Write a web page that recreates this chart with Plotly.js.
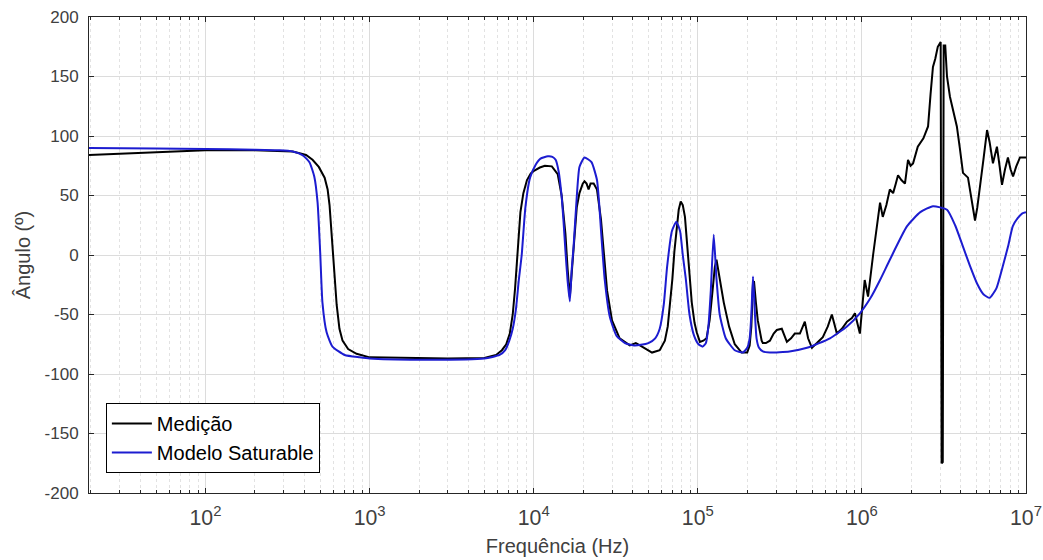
<!DOCTYPE html>
<html>
<head>
<meta charset="utf-8">
<script src="https://cdn.plot.ly/plotly-3.0.1.min.js"></script>
<style>html,body{margin:0;padding:0;background:#fff;}#chart{width:1043px;height:560px;}</style>
</head>
<body>
<div id="chart"></div>
<script>
// Medição (measured phase, degrees) vs frequency (Hz)
const freqMed = [19.5, 30, 50, 100, 200, 282, 340, 374, 410, 449, 490, 532, 555, 570, 585, 600, 615, 630, 655, 684, 740, 833, 1000, 2000, 3000, 5000, 5900, 6400, 6800, 7150, 7450, 7700, 7900, 8100, 8300, 8650, 9100, 9600, 10100, 10900, 11700, 12900, 14000, 14800, 15600, 16100, 16600, 17050, 17500, 18300, 19000, 19900, 20400, 21000, 21600, 22200, 23200, 24300, 25700, 26700, 28000, 30000, 33400, 38500, 40500, 41900, 44400, 49600, 52600, 58600, 63000, 65600, 68000, 70000, 72000, 74000, 76500, 78700, 81000, 83500, 87000, 91900, 95500, 98500, 103000, 108000, 113000, 118000, 123000, 127000, 130000, 134000, 139000, 144000, 155000, 168000, 185000, 200000, 207000, 212000, 217000, 220000, 226000, 232000, 245000, 249000, 260000, 275000, 290000, 303000, 325000, 337000, 349000, 370000, 390000, 419000, 449000, 470000, 496000, 532000, 578000, 620000, 656000, 704000, 755000, 811000, 869000, 907000, 940000, 972000, 1040000, 1090000, 1170000, 1290000, 1340000, 1410000, 1480000, 1550000, 1610000, 1660000, 1740000, 1830000, 1910000, 1980000, 2050000, 2190000, 2370000, 2530000, 2620000, 2710000, 2800000, 2900000, 3020000, 3060000, 3110000, 3150000, 3220000, 3300000, 3440000, 3620000, 3790000, 3950000, 4130000, 4430000, 4660000, 4890000, 5050000, 5250000, 5500000, 5790000, 6000000, 6290000, 6650000, 6900000, 7140000, 7450000, 7760000, 8050000, 8340000, 8700000, 9190000, 10000000];
const angMed  = [84, 85, 86, 88, 88, 87.5, 87, 85.5, 84, 80, 74, 65, 55, 42, 22, 0, -22, -42, -62, -72, -79, -83, -86, -87, -87, -86.5, -84, -80, -75, -66, -50, -28, -5, 18, 36, 52, 63, 68.5, 71, 73.5, 75, 74.5, 68, 50, 18, -12, -35, -15, 8, 40, 52, 60, 62, 60, 55, 60, 60, 55, 30, 0, -30, -55, -70, -76, -75, -74, -76, -80, -82, -80, -72, -60, -40, -20, 3, 20, 38, 45, 42, 32, 0, -40, -57, -65, -73, -72, -70, -55, -30, -10, -4, -15, -30, -40, -60, -75, -82, -82, -76, -60, -24, -22, -40, -55, -72, -74, -74, -72, -66, -63, -62, -67, -73, -70, -66, -66, -56, -70, -78, -74, -69, -60, -50, -66, -62, -56, -53, -49, -58, -66, -21, -35, 0, 44, 32, 42, 55, 52, 60, 67, 63, 60, 80, 75, 77, 91, 98, 108, 135, 158, 165, 175, 179, -175, -174, 176, 176, 150, 133, 120, 108, 90, 69, 65, 45, 29, 40, 57, 80, 105, 95, 77, 91, 75, 59, 72, 82, 72, 66, 74, 82, 82];

// Modelo Saturable
const freqMod = [19.5, 50, 100, 200, 282, 340, 390, 430, 460, 482, 500, 516, 547, 594, 705, 870, 1000, 2000, 5000, 6200, 6700, 7100, 7450, 7800, 8100, 8450, 8900, 9500, 10300, 11000, 12200, 13000, 13600, 14200, 14800, 15200, 15600, 16100, 16600, 17050, 17500, 18300, 19000, 20400, 22500, 24300, 25000, 25700, 27100, 29100, 32000, 36000, 41000, 45000, 50000, 55000, 58600, 62000, 65000, 69500, 74000, 78000, 81000, 84500, 89000, 95000, 101000, 107000, 112000, 116000, 120000, 125000, 130000, 136000, 148000, 168000, 188000, 200000, 207000, 212000, 217000, 223000, 228000, 236000, 249000, 275000, 362000, 463000, 639000, 811000, 972000, 1130000, 1290000, 1480000, 1880000, 2270000, 2710000, 3300000, 3700000, 4130000, 4550000, 5030000, 5500000, 6000000, 6600000, 7200000, 7800000, 8300000, 8900000, 9500000, 10000000];
const angMod  = [90, 89.5, 89, 88.5, 88, 87, 84, 78, 66, 44, 2, -40, -65, -77, -84, -86, -87, -88, -87, -84, -80, -72, -62, -45, -22, 0, 40, 65, 76, 81, 83, 82.5, 80, 70, 49, 28, 4, -22, -39, -12, 7, 49, 74, 82, 78, 63, 45, 21, -21, -52, -68, -74, -76, -75.5, -74, -70, -62, -42, -10, 20, 28, 20, 0, -20, -50, -68, -75, -77, -74, -60, -30, 17, -20, -50, -70, -80, -82, -78, -70, -50, -18, -50, -70, -78, -81, -82, -81, -78, -70, -60, -49, -36, -21, -4, 24, 36, 41, 38, 25, 7, -9, -24, -33, -36, -28, -10, 8, 24, 31, 35, 36];

const seriesNames = ['Medição', 'Modelo Saturable'];
const yTicks = [-200, -150, -100, -50, 0, 50, 100, 150, 200];
const yTickText = yTicks.map(String);

const FONT = 'Liberation Sans, Arial, Helvetica, sans-serif';

const traces = [
  {x: freqMed, y: angMed, name: seriesNames[0], mode: 'lines', line: {color: '#000000', width: 2}},
  {x: freqMod, y: angMod, name: seriesNames[1], mode: 'lines', line: {color: '#1c1cd0', width: 2, shape: 'spline', smoothing: 0.5}}
];

const tickFont = {family: FONT, size: 17, color: '#404040'};

const layout = {
  width: 1043, height: 560,
  margin: {l: 89, r: 17, t: 17, b: 67},
  paper_bgcolor: '#ffffff', plot_bgcolor: '#ffffff',
  showlegend: true,
  legend: {
    x: 0.018, y: 0.042, xanchor: 'left', yanchor: 'bottom',
    bgcolor: '#ffffff', bordercolor: '#000000', borderwidth: 1,
    font: {family: FONT, size: 20, color: '#000'},
    itemwidth: 40,
    tracegroupgap: 0
  },
  xaxis: {
    type: 'log',
    range: [Math.log10(19.5), 7],
    dtick: 1,
    exponentformat: 'power',
    showline: true, linecolor: '#262626', linewidth: 1, mirror: 'ticks',
    ticks: 'inside', ticklen: 5, tickcolor: '#262626',
    ticklabelstandoff: 6,
    showgrid: true, gridcolor: '#dcdcdc', gridwidth: 1,
    zeroline: false,
    tickfont: tickFont,
    minor: {dtick: 'D1', ticks: 'inside', ticklen: 3, tickcolor: '#262626', showgrid: true, gridcolor: '#e2e2e2', griddash: 'dot', gridwidth: 1},
    title: {text: 'Frequência (Hz)', font: {family: FONT, size: 20, color: '#404040'}, standoff: 10}
  },
  yaxis: {
    range: [-200, 200],
    tickvals: yTicks, ticktext: yTickText,
    showline: true, linecolor: '#262626', linewidth: 1, mirror: 'ticks',
    ticks: 'inside', ticklen: 5, tickcolor: '#262626',
    ticklabelstandoff: 6,
    showgrid: true, gridcolor: '#dcdcdc', gridwidth: 1,
    zeroline: false,
    tickfont: tickFont,
    title: {text: 'Ângulo (º)', font: {family: FONT, size: 20, color: '#404040'}, standoff: 8}
  }
};

Plotly.newPlot('chart', traces, layout, {displayModeBar: false, staticPlot: true});
</script>
</body>
</html>
